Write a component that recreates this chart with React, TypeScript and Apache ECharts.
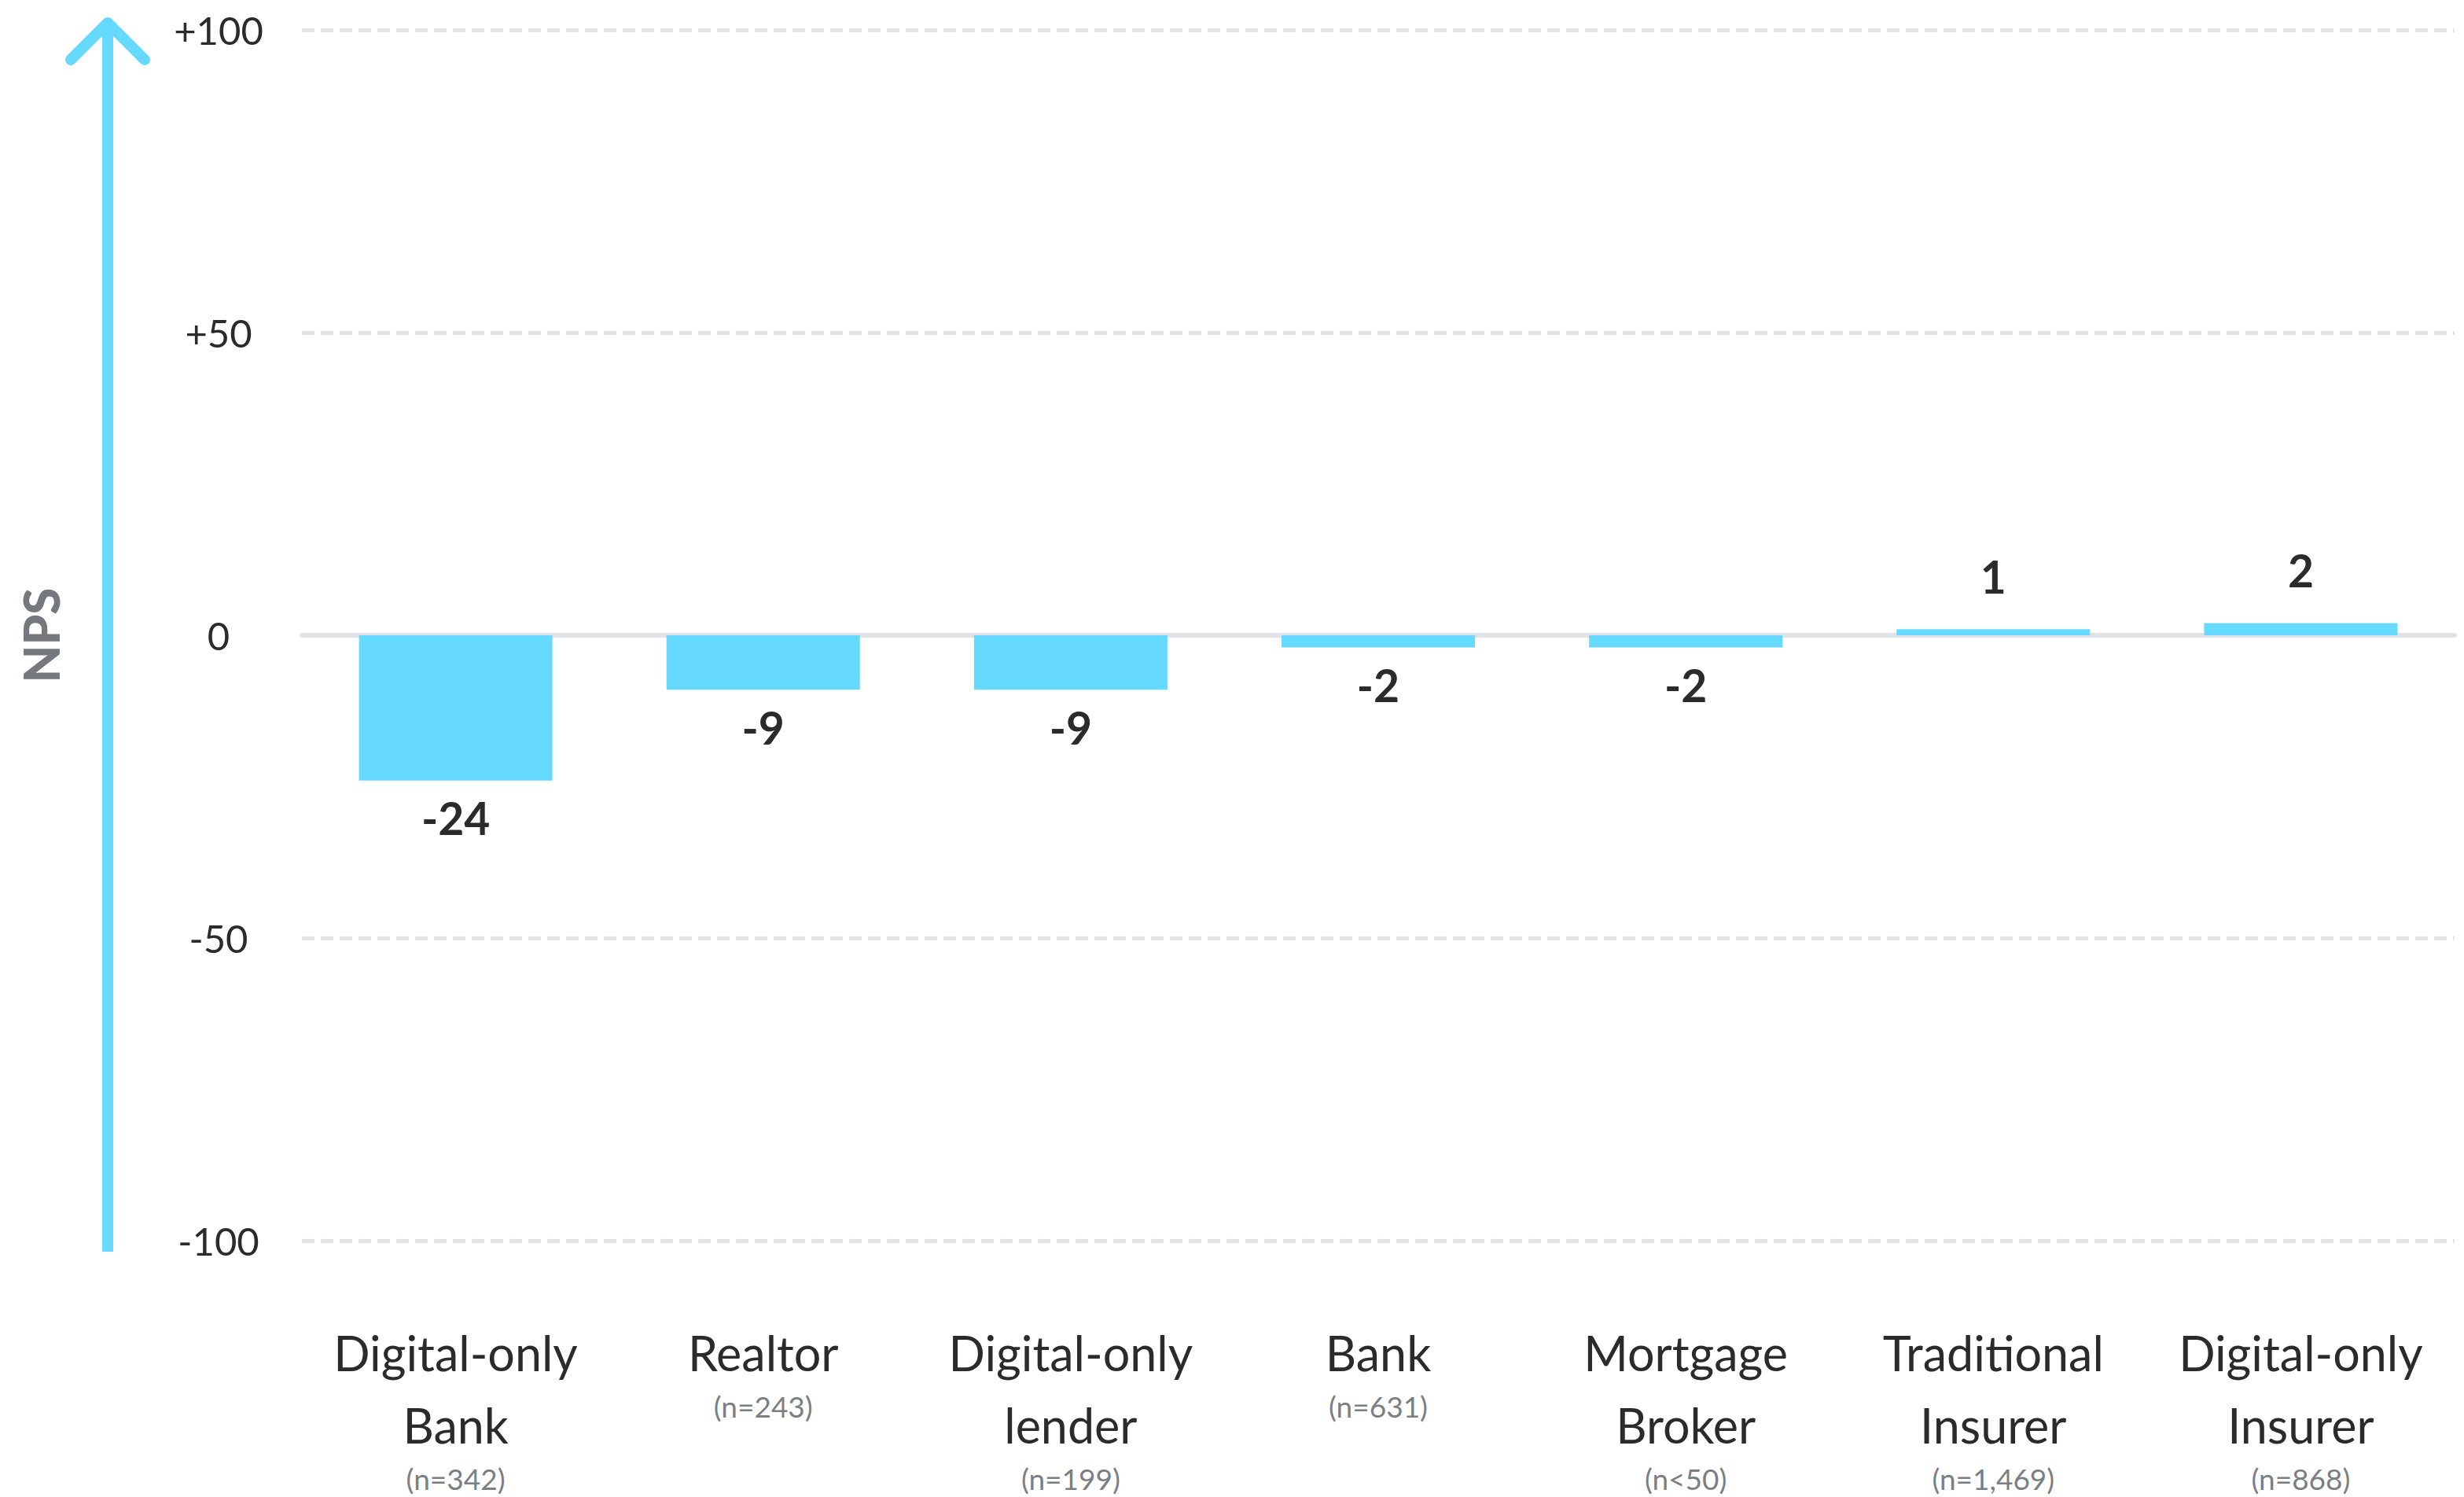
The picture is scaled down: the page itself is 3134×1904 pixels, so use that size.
import React, { useEffect, useRef } from "react";
import * as echarts from "echarts";

const categories = [
  "Digital-only\nBank",
  "Realtor",
  "Digital-only\nlender",
  "Bank",
  "Mortgage\nBroker",
  "Traditional\nInsurer",
  "Digital-only\nInsurer",
];
const sampleSizes = ["(n=342)", "(n=243)", "(n=199)", "(n=631)", "(n<50)", "(n=1,469)", "(n=868)"];
const npsValues = [-24, -9, -9, -2, -2, 1, 2];
const yTicks = { min: -100, max: 100, interval: 50 };

const BAR = "#66d9fe";
const DARK = "#2b2b2b";
const GREY = "#7b7f85";
const FONT = "Lato, sans-serif";

export default function App() {
  const ref = useRef<HTMLDivElement>(null);
  useEffect(() => {
    if (!ref.current) return;
    const chart = echarts.init(ref.current, null, { renderer: "svg" });
    chart.setOption({
      animation: false,
      backgroundColor: "#ffffff",
      grid: { left: 384, right: 12, top: 38, bottom: 326, containLabel: false, outerBoundsMode: "none" },
      xAxis: [
        {
          type: "category",
          data: categories,
          position: "bottom",
          axisLine: { show: false, onZero: false },
          axisTick: { show: false },
          axisLabel: {
            interval: 0,
            margin: 96,
            formatter: (v: string, i: number) =>
              v.split("\n").map((l) => `{a|${l}}`).join("\n") + `\n{b|${sampleSizes[i]}}`,
            rich: {
              a: { fontFamily: FONT, fontSize: 61, lineHeight: 92, color: DARK, align: "center" },
              b: { fontFamily: FONT, fontSize: 37, lineHeight: 44, color: GREY, align: "center" },
            },
          },
        },
        {
          type: "category",
          data: categories,
          position: "top",
          axisLine: { show: true, onZero: true, lineStyle: { color: "#dfe2e6", width: 6 } },
          axisTick: { show: false },
          axisLabel: { show: false },
        },
      ],
      yAxis: {
        type: "value",
        min: yTicks.min,
        max: yTicks.max,
        interval: yTicks.interval,
        name: "NPS",
        nameLocation: "middle",
        nameGap: 301,
        nameRotate: 90,
        nameTextStyle: { fontFamily: FONT, fontWeight: 900, fontSize: 62, color: "#75787d" },
        axisLine: { show: false },
        axisTick: { show: false },
        axisLabel: {
          margin: 106,
          align: "center",
          fontFamily: FONT,
          fontSize: 49,
          color: DARK,
          formatter: (v: number) => (v > 0 ? `+${v}` : `${v}`),
        },
        splitLine: { show: true, lineStyle: { color: "#e0e3e7", width: 5, type: [16, 8] } },
      },
      series: [
        {
          type: "bar",
          xAxisIndex: 0,
          barWidth: 246,
          itemStyle: { color: BAR },
          data: npsValues.map((v) => ({
            value: v,
            label: {
              show: true,
              position: v < 0 ? "bottom" : "top",
              distance: v < 0 ? 19 : 39,
              fontFamily: FONT,
              fontWeight: "bold",
              fontSize: 57,
              color: DARK,
            },
          })),
        },
      ],
      graphic: [
        {
          type: "line",
          shape: { x1: 137, y1: 1592, x2: 137, y2: 30 },
          style: { stroke: BAR, lineWidth: 14 },
        },
        {
          type: "polyline",
          shape: { points: [[90, 76], [137, 29], [184, 76]] },
          style: { stroke: BAR, lineWidth: 14, lineCap: "round", lineJoin: "round", fill: "none" },
        },
      ],
    });
    return () => chart.dispose();
  }, []);
  return (
    <div
      ref={ref}
      style={{ position: "fixed", left: 0, top: 0, width: 3134, height: 1904 }}
    />
  );
}
